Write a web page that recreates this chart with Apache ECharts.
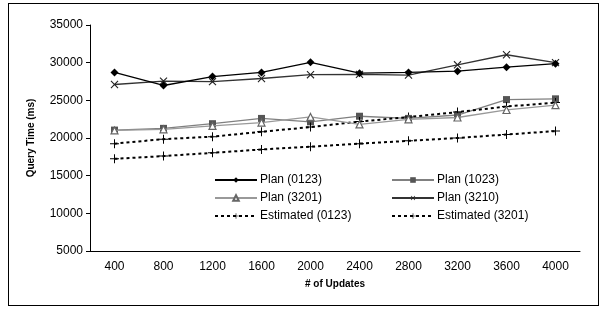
<!DOCTYPE html>
<html>
<head>
	<meta charset="utf-8">
	<title>Query Time</title>
	<script src="https://cdn.jsdelivr.net/npm/echarts@6/dist/echarts.min.js"></script>
	<style>
		html, body { margin: 0; padding: 0; background: #fff; }
		#frame { position: absolute; left: 8px; top: 3px; width: 591px; height: 303px; border: 1px solid #000; box-sizing: border-box; }
		#main { position: absolute; left: 0; top: 0; width: 605px; height: 311px; }
	</style>
</head>
<body>
	<div id="frame"></div>
	<div id="main"></div>
	<script>
		// x categories
		var updates = ['400', '800', '1200', '1600', '2000', '2400', '2800', '3200', '3600', '4000'];
		var yTicks = [5000, 35000, 5000]; // min, max, step

		// values (ms)
		var plan0123 = [28700, 26970, 28150, 28700, 30050, 28600, 28700, 28870, 29400, 29860];
		var plan1023 = [21050, 21280, 21900, 22600, 22150, 22890, 22600, 23050, 25100, 25200];
		var plan3201 = [21000, 21150, 21600, 22050, 22800, 21800, 22480, 22720, 23720, 24360];
		var plan3210 = [27100, 27550, 27480, 27900, 28400, 28450, 28350, 29720, 31050, 30000];
		var est0123 = [19250, 19850, 20180, 20830, 21450, 22180, 22780, 23440, 24180, 24700];
		var est3201 = [17230, 17600, 18030, 18480, 18850, 19250, 19620, 20000, 20460, 20920];

		// thin cross, used as "+" and (rotated) as "x"
		var plus = 'path://M4.45,0H5.55V4.45H10V5.55H5.55V10H4.45V5.55H0V4.45H4.45Z';
		var font = 'Liberation Sans, Arial, sans-serif';

		var myChart = echarts.init(document.getElementById('main'));

		function line(name, data, color, symbol, size, extra) {
			var s = {
				name: name,
				type: 'line',
				data: data,
				symbol: symbol,
				symbolSize: size,
				showAllSymbol: true,
				animation: false,
				lineStyle: { color: color, width: 1.3 },
				itemStyle: { color: color },
				emphasis: { disabled: true }
			};
			for (var k in extra) s[k] = extra[k];
			return s;
		}

		var legendBase = {
			orient: 'vertical',
			top: 169,
			itemWidth: 42,
			itemHeight: 7,
			itemGap: 6,
			textStyle: { fontFamily: font, fontSize: 12, color: '#000', padding: [0, 0, 0, -2] },
			selectedMode: false
		};

		var option = {
			animation: false,
			legend: [
				Object.assign({}, legendBase, { left: 209, data: ['Plan (0123)', 'Plan (3201)', 'Estimated (0123)'] }),
				Object.assign({}, legendBase, { left: 386, data: ['Plan (1023)', 'Plan (3210)', 'Estimated (3201)'] })
			],
			grid: { left: 90, right: 25, top: 25, bottom: 60 },
			xAxis: {
				type: 'category',
				data: updates,
				boundaryGap: true,
				name: '# of Updates',
				nameLocation: 'middle',
				nameGap: 28,
				nameTextStyle: { fontFamily: font, fontSize: 10, fontWeight: 'bold', color: '#000' },
				axisLine: { lineStyle: { color: '#000', width: 1 } },
				axisTick: { length: 4, lineStyle: { color: '#000' } },
				axisLabel: { fontFamily: font, fontSize: 12, color: '#000', margin: 10 },
				splitLine: { show: false }
			},
			yAxis: {
				type: 'value',
				min: yTicks[0],
				max: yTicks[1],
				interval: yTicks[2],
				name: 'Query Time (ms)',
				nameLocation: 'middle',
				nameGap: 54,
				nameTextStyle: { fontFamily: font, fontSize: 10, fontWeight: 'bold', color: '#000' },
				axisLine: { show: true, lineStyle: { color: '#000', width: 1 } },
				axisTick: { show: true, length: 4, lineStyle: { color: '#000' } },
				axisLabel: {
					fontFamily: font, fontSize: 12, color: '#000', margin: 7,
					formatter: function (v) { return String(v); }
				},
				splitLine: { show: false }
			},
			series: [
				line('Plan (0123)', plan0123, '#000', 'diamond', 8, { z: 5 }),
				line('Plan (1023)', plan1023, '#808080', 'rect', 7, { itemStyle: { color: '#555' } }),
				line('Plan (3201)', plan3201, '#999', 'triangle', 7, { itemStyle: { color: '#fff', borderColor: '#666', borderWidth: 1.2 }, z: 4 }),
				line('Plan (3210)', plan3210, '#333', plus, 10, { symbolRotate: 45, itemStyle: { color: '#222' } }),
				line('Estimated (0123)', est0123, '#000', plus, 9, { lineStyle: { color: '#000', width: 2, type: [3, 3] } }),
				line('Estimated (3201)', est3201, '#000', plus, 9, { lineStyle: { color: '#000', width: 2, type: [3, 3] } })
			]
		};

		myChart.setOption(option);
	</script>
</body>
</html>
